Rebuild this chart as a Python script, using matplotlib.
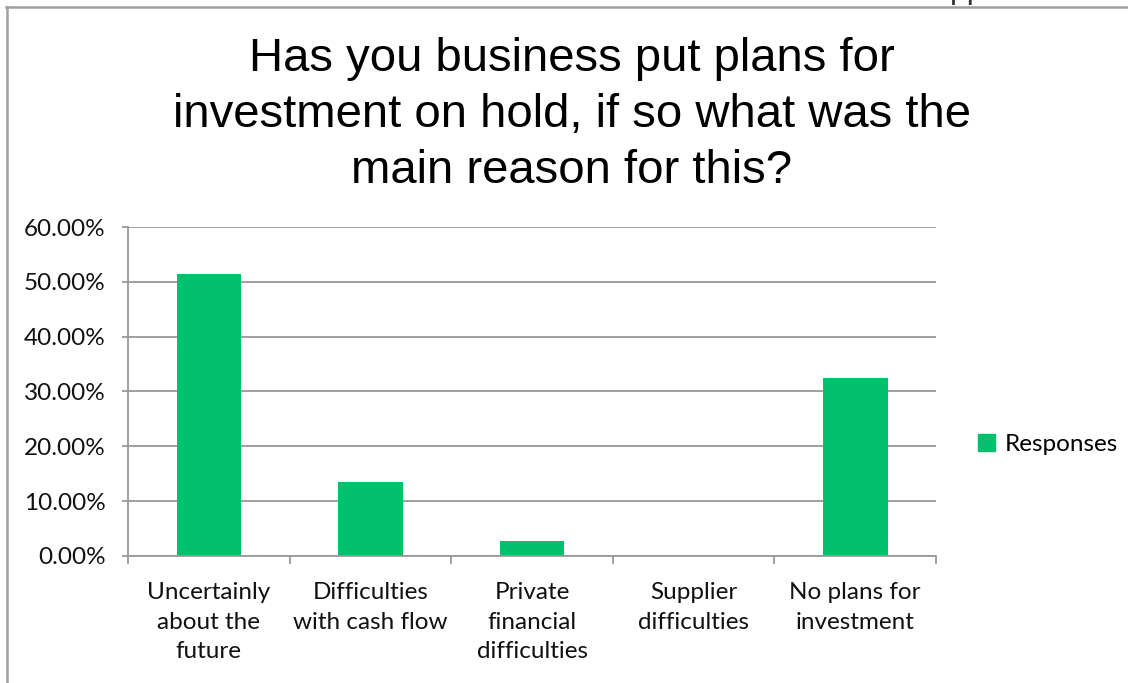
import matplotlib.pyplot as plt
from matplotlib.patches import Patch
from matplotlib.lines import Line2D
from matplotlib.ticker import FuncFormatter

categories = ["Uncertainly\nabout the\nfuture", "Difficulties\nwith cash flow",
              "Private\nfinancial\ndifficulties", "Supplier\ndifficulties",
              "No plans for\ninvestment"]
responses = [0.5135, 0.1351, 0.0270, 0.0, 0.3243]
title = "Has you business put plans for\ninvestment on hold, if so what was the\nmain reason for this?"

green = "#00C06E"
gray = "#999999"

fig = plt.figure(figsize=(11.28, 6.83), dpi=100)
ax = fig.add_axes([0.1135, 0.186, 0.7163, 0.4816])

x = list(range(len(categories)))
ax.bar(x, responses, width=0.4, color=green, zorder=3)

ax.set_xlim(-0.5, len(categories) - 0.5)
ax.set_ylim(0, 0.6)
ax.set_yticks([i / 10 for i in range(7)])
ax.yaxis.set_major_formatter(FuncFormatter(lambda v, p: "%.2f%%" % (v * 100)))
ax.grid(axis="y", color=gray, linewidth=1.3, zorder=0)

# category labels between boundary ticks
ax.set_xticks([i - 0.5 for i in range(len(categories) + 1)])
ax.set_xticklabels([])
ax.set_xticks(x, minor=True)
ax.set_xticklabels(categories, minor=True, fontsize=17.5, family="Lato",
                   color="#111111", linespacing=1.5)
ax.tick_params(axis="x", which="minor", length=0, pad=19)
ax.tick_params(axis="x", which="major", length=5.5, width=1.3, color=gray,
               direction="out")
ax.tick_params(axis="y", length=4.5, width=1.3, color=gray, pad=11.5,
               labelsize=17.5, labelcolor="#111111")
for lab in ax.get_yticklabels():
    lab.set_family("Lato")

for s in ["top", "right"]:
    ax.spines[s].set_visible(False)
for s in ["left", "bottom"]:
    ax.spines[s].set_color(gray)
    ax.spines[s].set_linewidth(1.3)
    ax.spines[s].set_zorder(4)

fig.text(0.507, 0.832, title, ha="center", va="center", fontsize=34,
         family="Liberation Sans", linespacing=1.36)

fig.legend(handles=[Patch(color=green, label="Responses")], loc="center left",
           bbox_to_anchor=(0.848, 0.349), frameon=False, handlelength=0.7,
           handleheight=0.7, handletextpad=0.4,
           prop={"family": "Lato", "size": 17.5})

# outer frame (top and left edges only)
fig.add_artist(Line2D([0.0055, 1.0], [0.9895, 0.9895], color="#a0a0a0", linewidth=1.8))
fig.add_artist(Line2D([0.0062, 0.0062], [0.0, 0.9895], color="#a0a0a0", linewidth=1.8))
fig.text(0.8425, 1.0025, "pp", fontsize=23, family="Liberation Sans",
         va="baseline", color="#333333")

fig.savefig("out.png", dpi=100)
